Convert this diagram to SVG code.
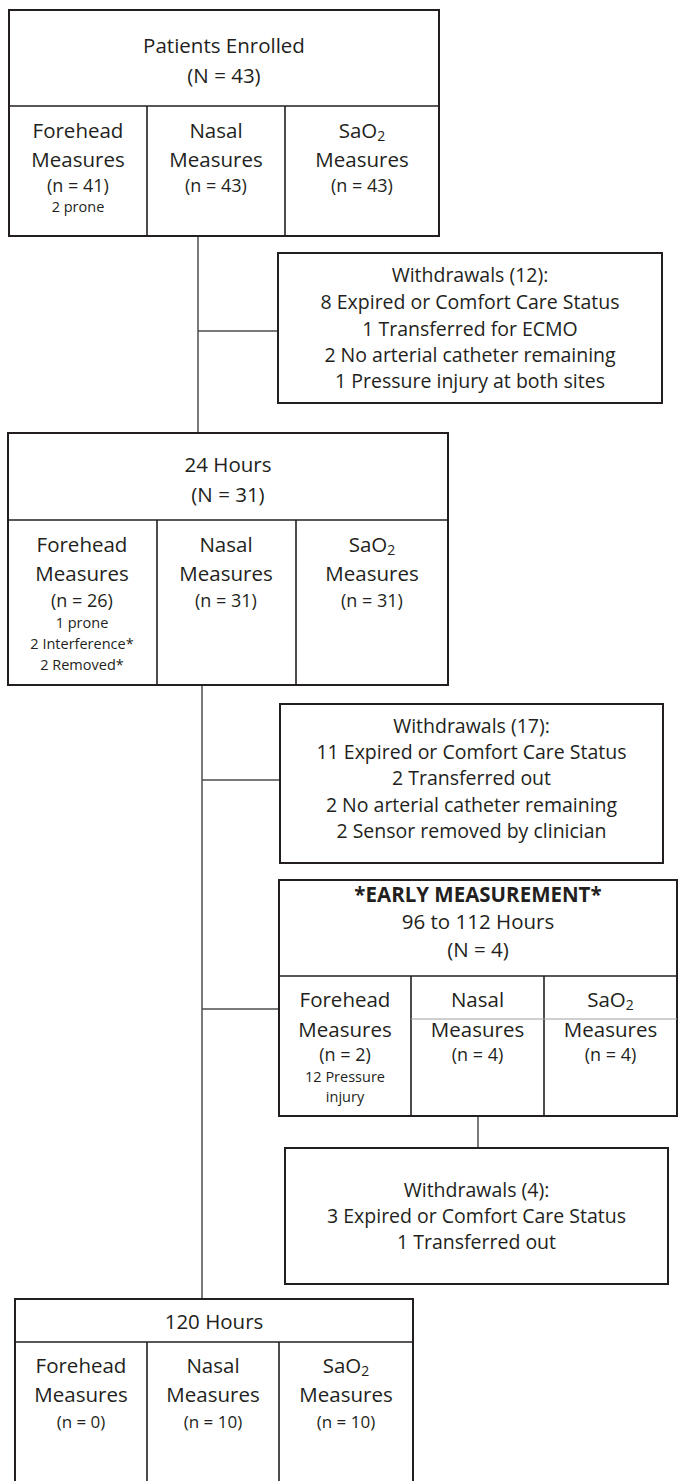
<svg xmlns="http://www.w3.org/2000/svg" width="678" height="1481" viewBox="0 0 678 1481">
<style>
text{font-family:"Open Sans","Liberation Sans",sans-serif;fill:#231f20;text-anchor:middle}
.b{font-size:20.5px}
.w{font-size:19.5px}
.n{font-size:18px}
.n2{font-size:17px}
.s{font-size:14.5px}
.bold{font-weight:bold}
.box{fill:#fff;stroke:#231f20;stroke-width:2}
.div{stroke:#231f20;stroke-width:1.6;fill:none}
.con{stroke:#4d4d4d;stroke-width:1.5;fill:none}
.faint{stroke:#a0a0a0;stroke-width:1;fill:none}
</style>
<rect width="678" height="1481" fill="#fff"/>
<g id="connectors">
<line class="con" x1="198" y1="236" x2="198" y2="433"/>
<line class="con" x1="198" y1="331" x2="278" y2="331"/>
<line class="con" x1="202" y1="685" x2="202" y2="1299"/>
<line class="con" x1="202" y1="780" x2="280" y2="780"/>
<line class="con" x1="202" y1="1009" x2="279" y2="1009"/>
<line class="con" x1="478" y1="1116" x2="478" y2="1148"/>
</g>
<g id="enrolled">
<rect class="box" x="9" y="10" width="430" height="226"/>
<line class="div" x1="9" y1="106" x2="439" y2="106"/>
<line class="div" x1="147" y1="106" x2="147" y2="236"/>
<line class="div" x1="285" y1="106" x2="285" y2="236"/>
<text class="b" x="224" y="53">Patients Enrolled</text>
<text class="b" x="224" y="83">(N = 43)</text>
<text class="b" x="78" y="138">Forehead</text>
<text class="b" x="78" y="167">Measures</text>
<text class="n" x="78" y="192">(n = 41)</text>
<text class="s" x="78" y="212">2 prone</text>
<text class="b" x="216" y="138">Nasal</text>
<text class="b" x="216" y="167">Measures</text>
<text class="n" x="216" y="192">(n = 43)</text>
<text class="b" x="362" y="138">SaO<tspan font-size="14" dy="3">2</tspan></text>
<text class="b" x="362" y="167">Measures</text>
<text class="n" x="362" y="192">(n = 43)</text>
</g>
<g id="withdrawals1">
<rect class="box" x="278" y="253" width="384" height="150"/>
<text class="w" x="470" y="282">Withdrawals (12):</text>
<text class="w" x="470" y="309">8 Expired or Comfort Care Status</text>
<text class="w" x="470" y="336">1 Transferred for ECMO</text>
<text class="w" x="470" y="362">2 No arterial catheter remaining</text>
<text class="w" x="470" y="388">1 Pressure injury at both sites</text>
</g>
<g id="hours24">
<rect class="box" x="8" y="433" width="440" height="252"/>
<line class="div" x1="8" y1="520" x2="448" y2="520"/>
<line class="div" x1="157" y1="520" x2="157" y2="685"/>
<line class="div" x1="296" y1="520" x2="296" y2="685"/>
<text class="b" x="228" y="472">24 Hours</text>
<text class="b" x="228" y="502">(N = 31)</text>
<text class="b" x="82" y="552">Forehead</text>
<text class="b" x="82" y="581">Measures</text>
<text class="n" x="82" y="607">(n = 26)</text>
<text class="s" x="82" y="628">1 prone</text>
<text class="s" x="82" y="649">2 Interference*</text>
<text class="s" x="82" y="670">2 Removed*</text>
<text class="b" x="226" y="552">Nasal</text>
<text class="b" x="226" y="581">Measures</text>
<text class="n" x="226" y="607">(n = 31)</text>
<text class="b" x="372" y="552">SaO<tspan font-size="14" dy="3">2</tspan></text>
<text class="b" x="372" y="581">Measures</text>
<text class="n" x="372" y="607">(n = 31)</text>
</g>
<g id="withdrawals2">
<rect class="box" x="280" y="704" width="383" height="159"/>
<text class="w" x="471.5" y="733">Withdrawals (17):</text>
<text class="w" x="471.5" y="759">11 Expired or Comfort Care Status</text>
<text class="w" x="471.5" y="785">2 Transferred out</text>
<text class="w" x="471.5" y="812">2 No arterial catheter remaining</text>
<text class="w" x="471.5" y="838">2 Sensor removed by clinician</text>
</g>
<g id="early">
<rect class="box" x="279" y="880" width="398" height="236"/>
<line class="div" x1="279" y1="976" x2="677" y2="976"/>
<line class="div" x1="411" y1="976" x2="411" y2="1116"/>
<line class="div" x1="544" y1="976" x2="544" y2="1116"/>
<line class="faint" x1="411" y1="1019" x2="677" y2="1019"/>
<text class="b bold" x="478" y="902">*EARLY MEASUREMENT*</text>
<text class="b" x="478" y="929">96 to 112 Hours</text>
<text class="b" x="478" y="957">(N = 4)</text>
<text class="b" x="345" y="1007">Forehead</text>
<text class="b" x="345" y="1037">Measures</text>
<text class="n" x="345" y="1061">(n = 2)</text>
<text class="s" x="345" y="1082">12 Pressure</text>
<text class="s" x="345" y="1102">injury</text>
<text class="b" x="477.5" y="1007">Nasal</text>
<text class="b" x="477.5" y="1037">Measures</text>
<text class="n" x="477.5" y="1061">(n = 4)</text>
<text class="b" x="610.5" y="1007">SaO<tspan font-size="14" dy="3">2</tspan></text>
<text class="b" x="610.5" y="1037">Measures</text>
<text class="n" x="610.5" y="1061">(n = 4)</text>
</g>
<g id="withdrawals3">
<rect class="box" x="285" y="1148" width="383" height="136"/>
<text class="w" x="476.5" y="1197">Withdrawals (4):</text>
<text class="w" x="476.5" y="1223">3 Expired or Comfort Care Status</text>
<text class="w" x="476.5" y="1249">1 Transferred out</text>
</g>
<g id="hours120">
<rect class="box" x="15" y="1299" width="398" height="190"/>
<line class="div" x1="15" y1="1342" x2="413" y2="1342"/>
<line class="div" x1="147" y1="1342" x2="147" y2="1489"/>
<line class="div" x1="279" y1="1342" x2="279" y2="1489"/>
<text class="b" x="214" y="1329">120 Hours</text>
<text class="b" x="81" y="1373">Forehead</text>
<text class="b" x="81" y="1402">Measures</text>
<text class="n2" x="81" y="1428">(n = 0)</text>
<text class="b" x="213" y="1373">Nasal</text>
<text class="b" x="213" y="1402">Measures</text>
<text class="n2" x="213" y="1428">(n = 10)</text>
<text class="b" x="346" y="1373">SaO<tspan font-size="14" dy="3">2</tspan></text>
<text class="b" x="346" y="1402">Measures</text>
<text class="n2" x="346" y="1428">(n = 10)</text>
</g>
</svg>
